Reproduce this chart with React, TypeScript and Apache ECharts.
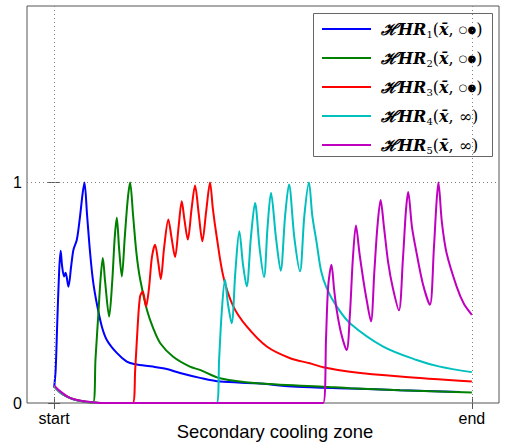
import React, { useEffect, useRef } from 'react';
import * as echarts from 'echarts';

// x: position along the secondary cooling zone (0 = start, 100 = end); y: normalised HHR value
const hhr1: [number, number][] = [
  [0, 0.07], [0.36, 0.15], [0.72, 0.35], [1.2, 0.6], [1.56, 0.69], [1.91, 0.62], [2.39, 0.574], [2.75, 0.59],
  [3.42, 0.527], [4.07, 0.62], [4.62, 0.695], [5.43, 0.74], [6.22, 0.85], [6.82, 0.95], [7.25, 1.0], [7.89, 0.85],
  [8.61, 0.68], [9.33, 0.55], [10.22, 0.45], [11.41, 0.347], [12.61, 0.286], [15.0, 0.227], [17.39, 0.188],
  [19.38, 0.176], [23.68, 0.165], [26.96, 0.154], [30.14, 0.136], [34.93, 0.114], [39.71, 0.097], [48.49, 0.089],
  [58.06, 0.074], [70.81, 0.066], [82.78, 0.058], [97.13, 0.05],
];
const hhr2: [number, number][] = [
  [0, 0.075], [1, 0.055], [2, 0.04], [3.3, 0.027], [5, 0.015], [7.5, 0.006], [9.3, 0.002],
  [9.9, 0.2], [10.6, 0.41], [11.1, 0.56], [11.65, 0.657], [12.2, 0.55], [13.16, 0.392], [13.9, 0.55], [14.5, 0.75],
  [15.0, 0.84], [15.55, 0.7], [16.2, 0.574], [16.9, 0.75], [17.6, 0.92], [18.18, 1.0], [18.9, 0.85], [19.7, 0.68],
  [20.6, 0.56], [22.2, 0.423], [23.7, 0.34], [25.4, 0.271], [28.5, 0.21], [32.5, 0.165], [34.9, 0.15], [39.7, 0.112],
  [48.5, 0.089], [64.4, 0.074], [70.8, 0.067], [82.8, 0.058], [100, 0.048],
];
const hhr3: [number, number][] = [
  [0, 0.075], [1, 0.055], [2, 0.04], [3.3, 0.027], [5, 0.015], [7.5, 0.006], [10, 0.002], [12, 0], [18.8, 0],
  [19.4, 0.15], [20.0, 0.35], [20.57, 0.483], [21.22, 0.506], [22.0, 0.438], [22.7, 0.52], [23.4, 0.66], [24.16, 0.718],
  [24.9, 0.64], [25.53, 0.562], [26.3, 0.7], [27.34, 0.832], [28.1, 0.75], [28.95, 0.662], [29.8, 0.8], [30.55, 0.915],
  [31.2, 0.83], [32.0, 0.741], [32.9, 0.88], [33.73, 0.986], [34.6, 0.86], [35.48, 0.733], [36.4, 0.87], [37.32, 1.0],
  [38.0, 0.88], [38.9, 0.756], [40.5, 0.574], [42.9, 0.438], [46.1, 0.347], [50.9, 0.256], [56.5, 0.203], [61.2, 0.18],
  [64.4, 0.162], [70.8, 0.142], [82.8, 0.12], [100, 0.097],
];
const hhr4: [number, number][] = [
  [0, 0.075], [1, 0.055], [2, 0.04], [3.3, 0.027], [5, 0.015], [7.5, 0.006], [10, 0.002], [12, 0], [38.9, 0],
  [39.5, 0.2], [40.1, 0.407], [40.9, 0.559], [41.6, 0.45], [42.5, 0.362], [43.4, 0.6], [44.33, 0.779], [45.2, 0.63],
  [46.1, 0.529], [47.1, 0.75], [48.09, 0.907], [49.2, 0.7], [50.24, 0.571], [51.1, 0.8], [51.91, 0.953], [53.1, 0.75],
  [54.23, 0.6], [55.3, 0.85], [56.22, 0.991], [57.5, 0.75], [58.85, 0.597], [59.9, 0.85], [61.0, 1.0], [61.8, 0.85],
  [62.85, 0.726], [63.9, 0.6], [65.24, 0.521], [67.63, 0.438], [70.81, 0.362], [78.78, 0.256], [86.77, 0.195],
  [92.34, 0.165], [100, 0.14],
];
const hhr5: [number, number][] = [
  [0, 0.08], [1, 0.06], [2, 0.045], [3.3, 0.028], [5, 0.016], [7.5, 0.007], [10, 0.002], [11, 0], [64.4, 0],
  [65.1, 0.3], [65.6, 0.529], [66.4, 0.627], [67.0, 0.52], [67.63, 0.423], [68.66, 0.32], [70.02, 0.24], [70.8, 0.4],
  [71.5, 0.65], [72.25, 0.805], [73.09, 0.68], [74.0, 0.56], [74.88, 0.46], [75.84, 0.37], [76.67, 0.6], [77.39, 0.8],
  [78.16, 0.92], [78.95, 0.8], [79.98, 0.635], [81.1, 0.52], [82.54, 0.42], [83.49, 0.65], [84.21, 0.87], [84.76, 0.957],
  [85.65, 0.8], [86.77, 0.68], [88.28, 0.54], [89.95, 0.445], [90.91, 0.7], [91.51, 0.9], [91.99, 1.0], [92.82, 0.82],
  [93.95, 0.68], [96.34, 0.529], [98.09, 0.45], [100, 0.4],
];

const seriesNames = ['HHR1', 'HHR2', 'HHR3', 'HHR4', 'HHR5'];
const seriesSubs = ['1', '2', '3', '4', '5'];
const seriesFilled = [true, true, true, false, false];
const seriesColors = ['#0000ff', '#008000', '#ff0000', '#00bfbf', '#bf00bf'];
const seriesData = [hhr1, hhr2, hhr3, hhr4, hhr5];

const xTickValues = [0, 100];
const xTickLabels = ['start', 'end'];
const yTickValues = [0, 1];
const xLabel = 'Secondary cooling zone';

export default function App() {
  const ref = useRef<HTMLDivElement>(null);
  useEffect(() => {
    if (!ref.current) return;
    const chart = echarts.init(ref.current, undefined, { renderer: 'svg' });
    const serif = 'DejaVu Serif';
    const sans = 'Liberation Sans';
    const frame = '#555555';
    const axisCommonX = {
      type: 'value' as const,
      min: -6.5,
      max: 106.5,
      splitLine: { show: false },
      axisLine: { show: false },
    };
    const axisCommonY = {
      type: 'value' as const,
      min: 0,
      max: 1.8,
      splitLine: { show: false },
      axisLine: { show: false },
    };
    const option: any = {
      animation: false,
      backgroundColor: '#ffffff',
      grid: { left: 27, top: 6, right: 6, bottom: 40, show: true, borderColor: frame, borderWidth: 1, backgroundColor: 'transparent' },
      xAxis: [
        {
          ...axisCommonX,
          position: 'bottom',
          axisTick: { show: true, inside: true, length: 6, customValues: xTickValues, lineStyle: { color: frame } },
          axisLabel: {
            customValues: xTickValues,
            formatter: (v: number) => xTickLabels[xTickValues.indexOf(v)] ?? '',
            fontFamily: sans, fontSize: 16, color: '#000', margin: 7,
          },
        },
        {
          ...axisCommonX,
          position: 'top',
          axisTick: { show: true, inside: true, length: 6, customValues: xTickValues, lineStyle: { color: frame } },
          axisLabel: { show: false },
        },
      ],
      yAxis: [
        {
          ...axisCommonY,
          position: 'left',
          axisTick: { show: true, inside: true, length: 6, customValues: yTickValues, lineStyle: { color: frame } },
          axisLabel: { customValues: yTickValues, fontFamily: sans, fontSize: 16, color: '#000', margin: 5 },
        },
        {
          ...axisCommonY,
          position: 'right',
          axisTick: { show: true, inside: true, length: 6, customValues: yTickValues, lineStyle: { color: frame } },
          axisLabel: { show: false },
        },
      ],
      legend: {
        data: seriesNames.map((n) => ({ name: n, icon: 'rect' })),
        orient: 'vertical',
        left: 322,
        top: 21,
        padding: 0,
        itemWidth: 49,
        itemHeight: 2,
        itemGap: 11,
        backgroundColor: 'transparent',
        borderWidth: 0,
        z: 5,
        formatter: (name: string) => {
          const i = seriesNames.indexOf(name);
          const inf = seriesFilled[i] ? '{o|○●}' : '{i|∞}';
          return `{h|ℋ}{b|HR}{s|${seriesSubs[i]}}{p|(}{x|x̄}{p|, }${inf}{p|)}`;
        },
        textStyle: {
          rich: {
            h: { fontFamily: serif, fontSize: 16, fontWeight: 'bold', fontStyle: 'italic', color: '#000', lineHeight: 20, padding: [0, 0, 0, 5] },
            b: { fontFamily: serif, fontSize: 16, fontWeight: 'bold', fontStyle: 'italic', color: '#000', lineHeight: 20 },
            s: { fontFamily: serif, fontSize: 10, color: '#000', lineHeight: 20, verticalAlign: 'bottom' },
            p: { fontFamily: serif, fontSize: 16, color: '#000', lineHeight: 20 },
            x: { fontFamily: serif, fontSize: 16, fontWeight: 'bold', fontStyle: 'italic', color: '#000', lineHeight: 20 },
            o: { fontFamily: 'DejaVu Sans', fontSize: 10, color: '#000', lineHeight: 20 },
            i: { fontFamily: serif, fontSize: 16, color: '#000', lineHeight: 20 },
          },
        },
      },
      graphic: {
        elements: [
          {
            type: 'rect',
            z: 3,
            shape: { x: 313.5, y: 13.5, width: 179, height: 143 },
            style: { fill: '#ffffff', stroke: '#666666', lineWidth: 1 },
          },
          {
            type: 'text',
            x: 275,
            y: 431,
            style: { text: xLabel, fontFamily: sans, fontSize: 18.4, fill: '#000', textAlign: 'center', textVerticalAlign: 'middle' },
          },
        ],
      },
      series: [
        {
          type: 'line',
          name: 'grid',
          data: [],
          z: 1,
          silent: true,
          markLine: {
            silent: true,
            symbol: 'none',
            label: { show: false },
            lineStyle: { type: [1, 3], color: '#808080', width: 1 },
            data: [{ xAxis: xTickValues[0] }, { xAxis: xTickValues[1] }, { yAxis: yTickValues[1] }],
          },
        },
        ...seriesData.map((d, i) => ({
          type: 'line',
          name: seriesNames[i],
          data: d,
          symbol: 'none',
          smooth: 0.3,
          z: 2 + i * 0.01,
          lineStyle: { color: seriesColors[i], width: 2 },
          itemStyle: { color: seriesColors[i] },
        })),
      ],
    };
    chart.setOption(option);
    return () => chart.dispose();
  }, []);
  return <div ref={ref} style={{ position: 'fixed', left: 0, top: 0, width: 505, height: 443 }} />;
}
